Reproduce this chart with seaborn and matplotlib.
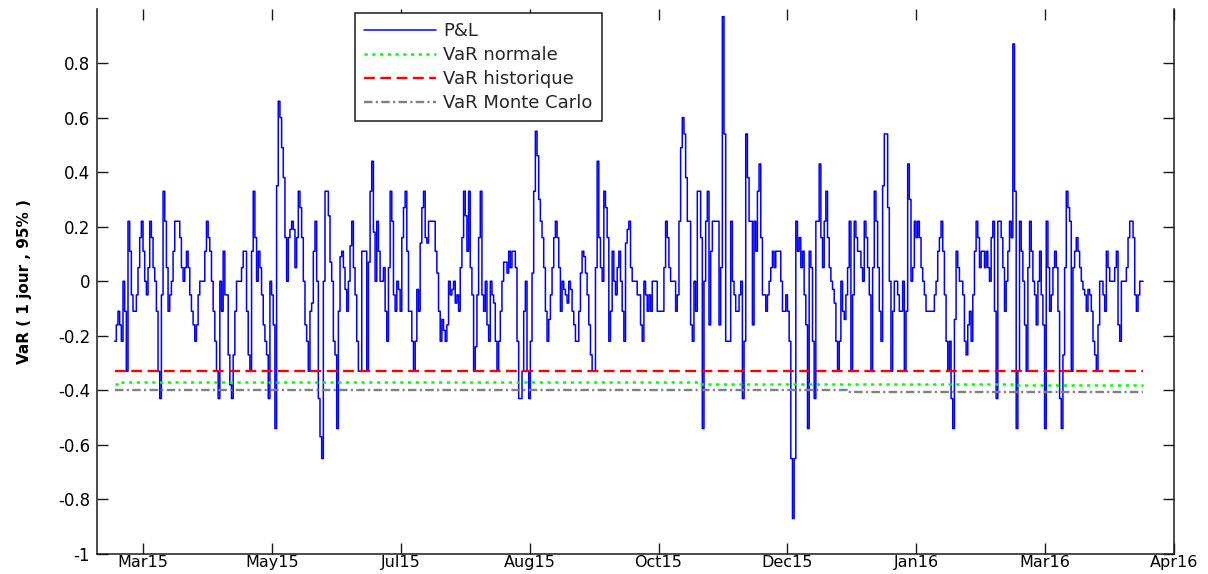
import matplotlib
matplotlib.use("Agg")
import matplotlib.pyplot as plt
import numpy as np
import pandas as pd
import seaborn as sns

# ---------------- data ----------------
# daily P&L, stair-stepped, split by period (Mar15 .. Apr16)
pnl_part1 = [-0.22, -0.16, -0.11, -0.16, -0.22, 0.00, -0.11, -0.33, 0.22, 0.11,
             -0.05, -0.11, -0.11, -0.05, 0.05, 0.16, 0.22, 0.11, 0.00, -0.05,
             0.05, 0.22, 0.16, 0.05, 0.00, -0.11, -0.33, -0.43,
             -0.05, 0.33, 0.22, 0.05, -0.11, -0.05, 0.00, 0.11, 0.22, 0.22,
             0.22, 0.16, 0.05, 0.00, 0.05, 0.11, 0.05, -0.05, -0.11, -0.16,
             -0.22, -0.16, -0.05, 0.00, 0.00, 0.00, 0.11, 0.22, 0.16, 0.11,
             0.00, -0.11, -0.22, -0.33, -0.43, 0.00, -0.11, 0.11, -0.05, -0.05,
             -0.27, -0.38, -0.43, -0.27, -0.11, 0.00, 0.00, 0.00, 0.05, 0.11]
pnl_part2 = [0.11, -0.11, -0.27, -0.33, 0.11, 0.33, 0.16, 0.00, 0.11, 0.05,
             -0.05, -0.16, -0.22, -0.27, -0.43, 0.00, -0.05, -0.16, -0.54, 0.35,
             0.66, 0.60, 0.49, 0.38, 0.16, 0.00, 0.16, 0.19, 0.22, 0.19,
             0.05, 0.16, 0.33, 0.27, 0.16, 0.00, -0.16, -0.22, -0.33, -0.11,
             -0.08, 0.11, 0.22, 0.00, -0.43, -0.57, -0.65, 0.00, 0.33, 0.33,
             0.24, 0.07, 0.00, -0.22, -0.27, -0.54, -0.11, 0.09, 0.11, 0.05,
             -0.03, -0.11, 0.00, 0.13, 0.22, 0.05, -0.05, -0.22, -0.33, -0.33,
             0.11, 0.11, 0.11, -0.33, 0.07, 0.33, 0.44, 0.18, 0.00]
pnl_part3 = [0.22, 0.11, 0.00, 0.00, 0.05, -0.11, -0.22, 0.05, 0.33, 0.22,
             -0.05, -0.11, 0.00, -0.03, -0.11, 0.16, 0.27, 0.33, 0.11, -0.11,
             -0.11, -0.22, -0.33, -0.22, -0.03, -0.11, 0.14, 0.27, 0.33, 0.16,
             0.14, 0.22, 0.22, 0.22, 0.22, 0.11, 0.03, -0.11, -0.22, -0.14,
             -0.18, -0.22, -0.16, 0.00, -0.05, -0.03, 0.00, -0.08, -0.05, -0.11,
             0.05, 0.16, 0.33, 0.24, 0.11, 0.33, 0.05, -0.05, -0.33, -0.24,
             -0.05, 0.16, 0.33, -0.05, -0.11, 0.00, -0.16, -0.22, 0.00, -0.05,
             -0.08, -0.22, -0.33, -0.22, -0.11, 0.00, 0.07]
pnl_part4 = [0.07, 0.03, 0.11, 0.05, 0.11, 0.11, 0.05, -0.22, -0.43, -0.43,
             -0.33, -0.11, 0.00, -0.33, -0.43, -0.22, 0.03, 0.33, 0.55, 0.46,
             0.30, 0.22, 0.16, 0.05, -0.11, -0.22, -0.14, -0.05, 0.05, 0.16,
             0.22, 0.16, 0.05, -0.11, 0.00, -0.03, -0.05, -0.08, 0.00, -0.03,
             -0.11, -0.16, -0.22, -0.22, -0.11, 0.03, 0.11, 0.09, 0.03, -0.05,
             -0.16, -0.27, -0.33, -0.33, 0.05, 0.44, 0.16, 0.05, 0.00, 0.33,
             0.27, 0.16, -0.22, -0.11, 0.11, 0.00, -0.05, 0.05, 0.11, 0.00,
             -0.11, -0.22, 0.14, 0.19, 0.22, 0.05, 0.00, 0.00]
pnl_part5 = [0.00, -0.05, -0.05, -0.16, -0.22, 0.00, -0.05, -0.11, -0.05, -0.11,
             0.00, 0.00, 0.00, -0.11, -0.11, -0.11, -0.11, 0.05, 0.22, 0.16,
             0.05, 0.00, 0.00, 0.00, -0.11, -0.05, 0.22, 0.49, 0.60, 0.54,
             0.38, 0.22, 0.22, -0.16, -0.22, 0.00, -0.11, 0.33, 0.33, 0.16,
             -0.54, 0.00, 0.22, 0.33, -0.16, 0.11, 0.22, 0.22, 0.22, 0.22,
             -0.16, 0.05, 0.97, 0.54, -0.22, -0.22, -0.22, 0.22, 0.00, -0.05,
             -0.11, -0.11, -0.05, 0.00, -0.43, -0.22, 0.54, 0.38, 0.22, 0.22,
             -0.16, 0.22, 0.11, 0.33, 0.43, 0.16, -0.05, -0.05, -0.11, -0.05,
             0.00, 0.05, 0.11, 0.05, 0.11, 0.11, 0.11, 0.00, -0.11, -0.11,
             -0.05, -0.11, -0.22, -0.65, -0.87, -0.65, 0.22, 0.11, 0.16, 0.05,
             0.11, -0.05, -0.16, -0.54, 0.11]
pnl_part6 = [0.05, -0.22, -0.43, 0.22, 0.22, 0.43, 0.16, 0.05, 0.22, 0.33,
             0.16, 0.05, 0.00, -0.03, -0.08, -0.22, -0.33, -0.22, 0.00, -0.11,
             -0.14, -0.05, 0.05, 0.22, -0.33, -0.05, 0.22, 0.16, 0.11, 0.11,
             0.05, 0.00, 0.22, 0.16, 0.05, -0.05, -0.33, 0.05, 0.33, 0.22,
             0.05, -0.11, -0.22, 0.35, 0.54, 0.54, 0.27, 0.00, -0.33, -0.11,
             0.00, 0.00, -0.05, -0.11, -0.11, 0.00, -0.33, -0.11, 0.43, 0.30,
             0.00, 0.05, 0.22, 0.16, 0.22, 0.16, 0.05, 0.00, -0.05, -0.11,
             -0.11, -0.11, -0.11, -0.11, -0.05, 0.00, 0.11, 0.16, 0.22, 0.11,
             -0.05, -0.22, -0.33, -0.22, -0.43, -0.54, -0.14, 0.11, 0.05, 0.00,
             0.00, -0.05, -0.22, -0.27, -0.16, -0.11, -0.22, -0.05, 0.11, 0.22,
             0.16, 0.05, 0.11, 0.11, 0.05, 0.11, 0.05, 0.00, 0.16, 0.22,
             -0.11, -0.43, 0.22, 0.22, 0.16, 0.05, -0.11, 0.00, 0.11, 0.22,
             0.16, 0.87, 0.33, -0.54, -0.33, 0.22, 0.11, 0.00, -0.16, -0.33,
             0.05, 0.22, 0.11, 0.00, -0.05, -0.16, 0.00, 0.11]
pnl_part7 = [-0.05, -0.16, -0.54, 0.22, 0.05, -0.11, -0.05, 0.05, 0.11, 0.05,
             -0.11, -0.43, -0.54, -0.27, 0.05, 0.33, 0.27, 0.22, -0.33, 0.05,
             0.11, 0.16, 0.11, 0.05, 0.00, -0.03, -0.05, -0.11, -0.03, -0.05,
             -0.11, -0.22, -0.27, -0.33, -0.16, 0.00, 0.00, -0.05, -0.11, 0.11,
             0.05, 0.00, 0.00, 0.00, 0.05, 0.11, -0.16, -0.22, 0.00, 0.00,
             0.00, 0.05, 0.16, 0.22, 0.22, 0.16, -0.05, -0.11, -0.05, 0.00,
             0.00, 0.00]
pnl = (pnl_part1 + pnl_part2 + pnl_part3 + pnl_part4 +
       pnl_part5 + pnl_part6 + pnl_part7)
pnl_start = "2015-03-16"
pnl_end = "2016-04-18"

# rolling VaR estimates (piecewise constant)
var_normale_dates = ["2015-03-16", "2015-03-19", "2015-10-29", "2016-02-27", "2016-04-18"]
var_normale = [-0.378, -0.370, -0.376, -0.382, -0.382]
var_hist_dates = ["2015-03-16", "2016-04-18"]
var_historique = [-0.330, -0.330]
var_mc_dates = ["2015-03-16", "2015-12-25", "2016-04-18"]
var_montecarlo = [-0.400, -0.405, -0.405]

legend_labels = ["P&L", "VaR normale", "VaR historique", "VaR Monte Carlo"]
ylabel_text = "VaR ( 1 jour , 95% )"

xtick_dates = ["2015-03-27", "2015-05-16", "2015-07-05", "2015-08-24", "2015-10-13",
               "2015-12-02", "2016-01-21", "2016-03-11", "2016-04-30"]
xtick_labels = ["Mar15", "May15", "Jul15", "Aug15", "Oct15", "Dec15", "Jan16", "Mar16", "Apr16"]
ytick_values = [-1.0, -0.8, -0.6, -0.4, -0.2, 0.0, 0.2, 0.4, 0.6, 0.8]
ytick_labels = ["-1", "-0.8", "-0.6", "-0.4", "-0.2", "0", "0.2", "0.4", "0.6", "0.8"]

# ---------------- style ----------------
sns.set_theme(style="ticks")
plt.rcParams["font.family"] = ["DejaVu Sans"]
plt.rcParams["axes.edgecolor"] = "#1a1a1a"
plt.rcParams["axes.linewidth"] = 1.1

W, H = 1208, 574
fig = plt.figure(figsize=(W / 100, H / 100), dpi=100)
fig.patch.set_facecolor("white")
ax_left, ax_right, ax_top, ax_bottom = 97, 1174, 8.5, 554
ax = fig.add_axes([ax_left / W, (H - ax_bottom) / H,
                   (ax_right - ax_left) / W, (ax_bottom - ax_top) / H])
ax.set_facecolor("white")

df = pd.DataFrame({"date": pd.date_range(pnl_start, pnl_end, periods=len(pnl)),
                   "pnl": pnl})
sns.lineplot(data=df, x="date", y="pnl", ax=ax, color="#0000ff", linewidth=1.1,
             drawstyle="steps-post", estimator=None, sort=False, zorder=2)

sns.lineplot(x=pd.to_datetime(var_normale_dates), y=var_normale, ax=ax,
             color="#00ff00", linewidth=1.8, drawstyle="steps-post",
             estimator=None, sort=False, zorder=3)
sns.lineplot(x=pd.to_datetime(var_hist_dates), y=var_historique, ax=ax,
             color="#ff0000", linewidth=1.7, drawstyle="steps-post",
             estimator=None, sort=False, zorder=3)
sns.lineplot(x=pd.to_datetime(var_mc_dates), y=var_montecarlo, ax=ax,
             color="#808080", linewidth=1.7, drawstyle="steps-post",
             estimator=None, sort=False, zorder=3)

lines = ax.get_lines()
lines[1].set_dashes([1.3, 1.8])
lines[2].set_dashes([4.6, 2.3])
lines[3].set_dashes([3.6, 1.4, 0.9, 1.4])

ax.set_xlim(pd.Timestamp("2015-03-09 03:40"), pd.Timestamp("2016-04-30"))
ax.set_ylim(-1.0, 1.0)
ax.set_xticks(pd.to_datetime(xtick_dates))
ax.set_xticklabels(xtick_labels)
ax.set_yticks(ytick_values)
ax.set_yticklabels(ytick_labels)
ax.set_xlabel("")
ax.set_ylabel(ylabel_text, fontsize=11, fontweight="bold", color="black")
ax.yaxis.set_label_coords(-0.060, 0.5)

ax.spines["top"].set_visible(False)
ax.tick_params(axis="both", which="major", direction="in", length=7.8, width=1.0,
               color="#1a1a1a", labelsize=12, labelcolor="black",
               top=True, right=True)
ax.tick_params(axis="y", pad=5)
ax.tick_params(axis="x", pad=0.4, labelsize=11.5)

leg = ax.legend(lines[:4], legend_labels, loc="upper left",
                bbox_to_anchor=(355 / W, (H - 13) / H), bbox_transform=fig.transFigure,
                borderaxespad=0, fancybox=False, frameon=True, framealpha=1,
                edgecolor="#1a1a1a", fontsize=13, handlelength=4.0,
                handletextpad=0.4, labelspacing=0.33, borderpad=0.5)
leg.get_frame().set_linewidth(1.1)
leg.set_zorder(10)

fig.savefig("out.png", dpi=100, facecolor="white")
